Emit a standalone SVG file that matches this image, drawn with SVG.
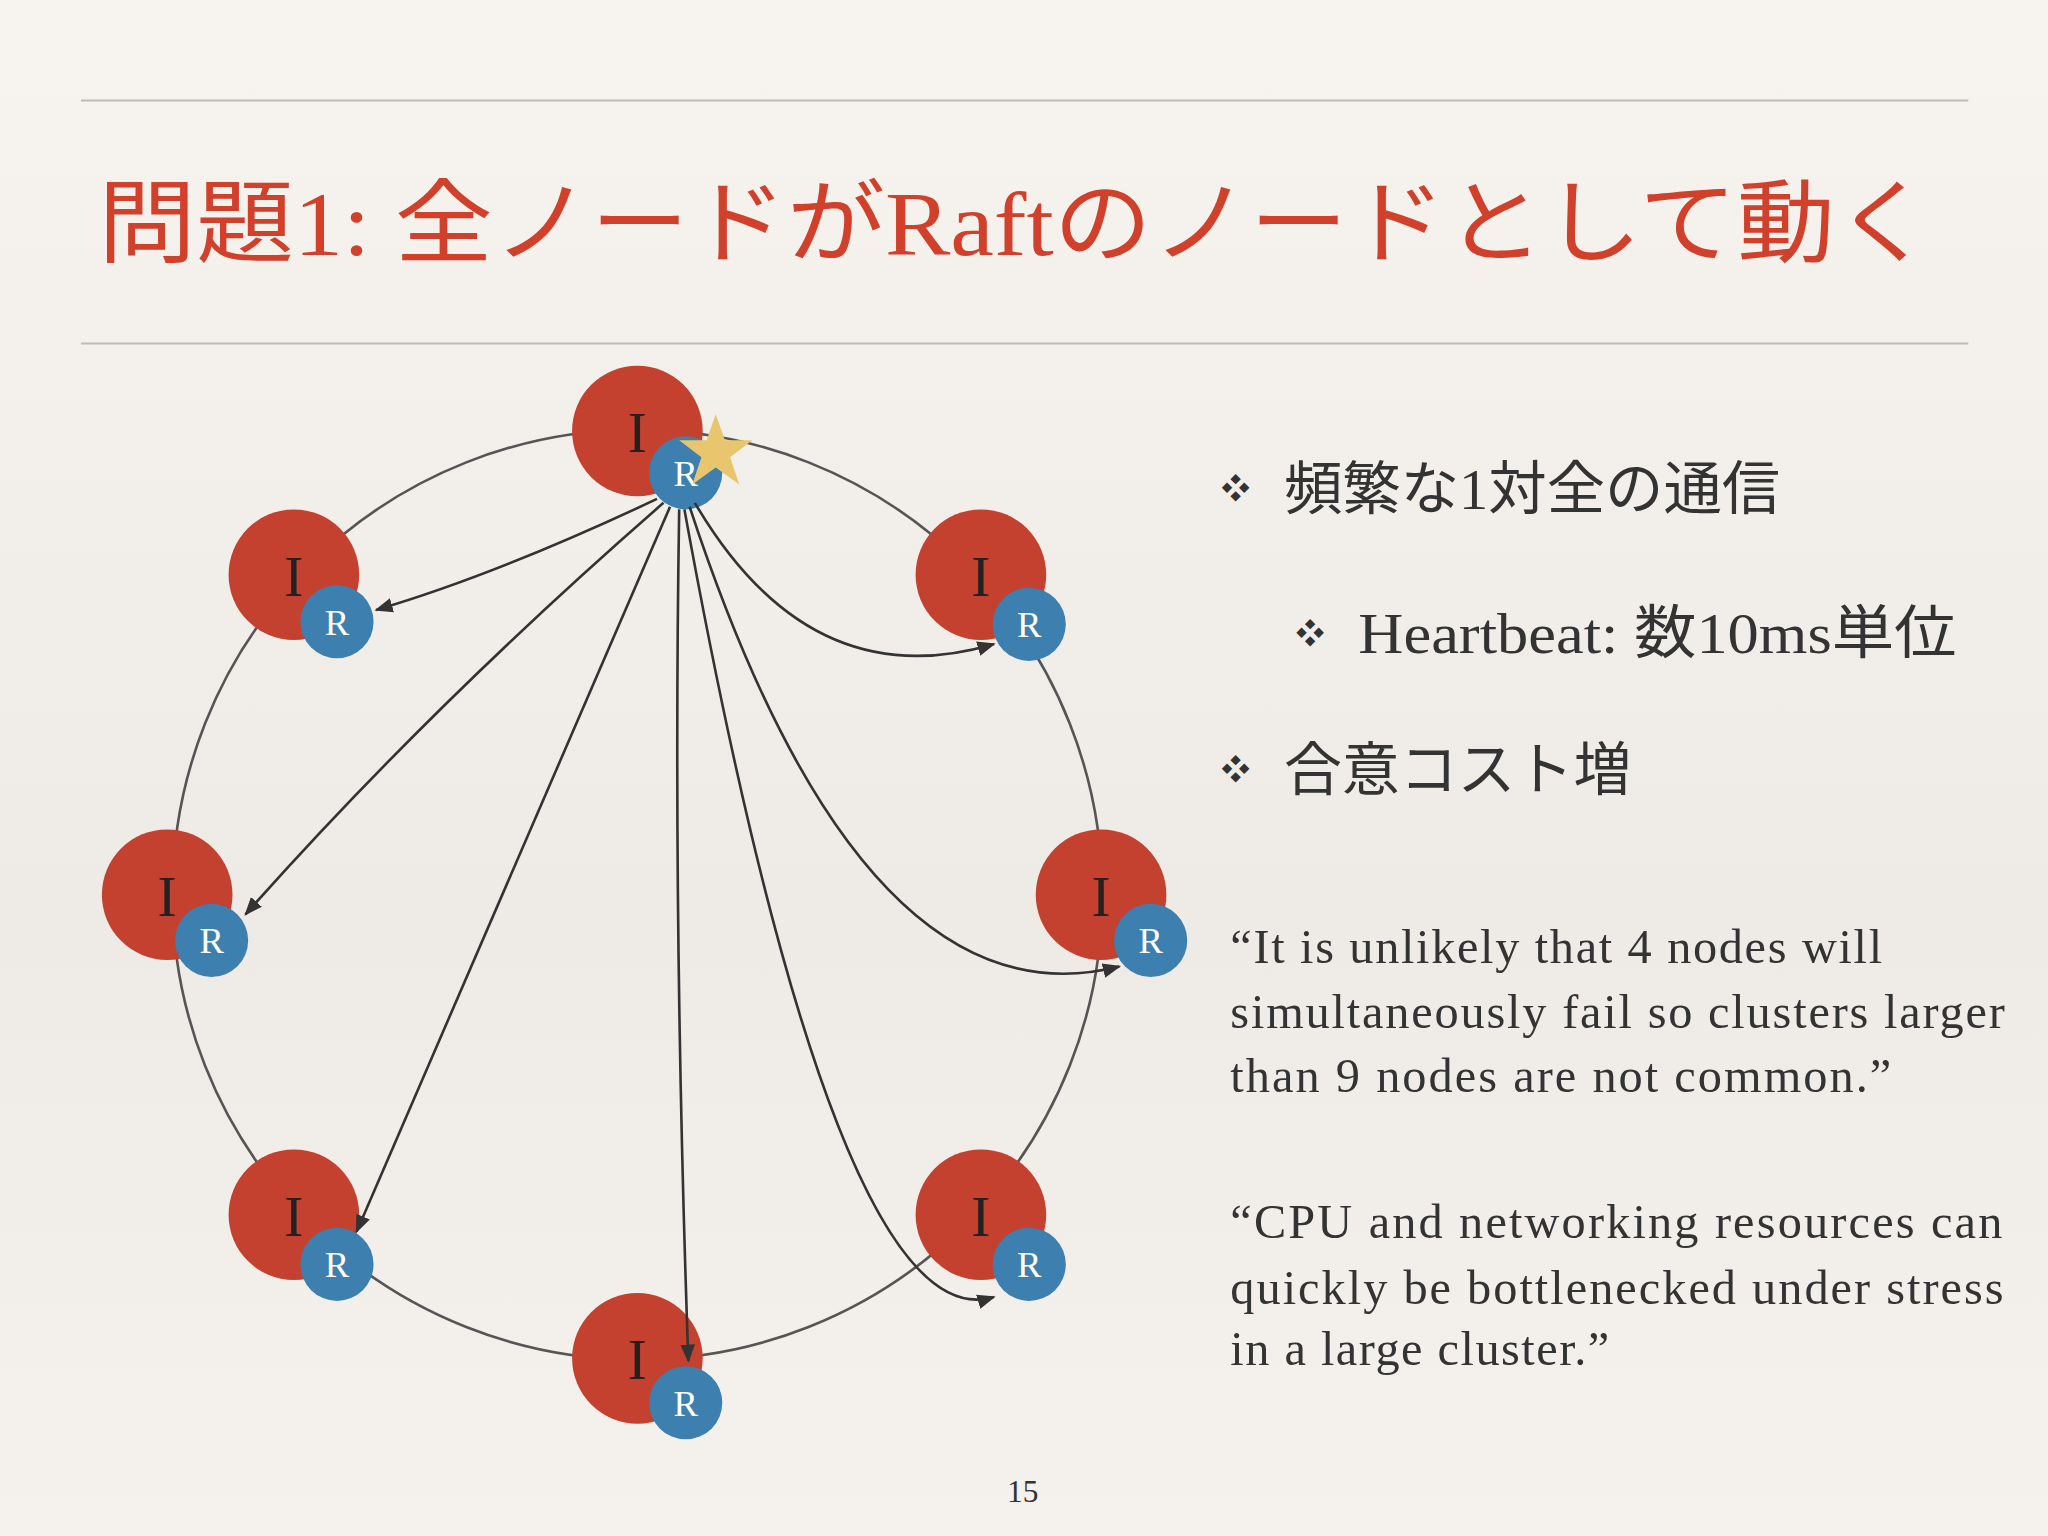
<svg xmlns="http://www.w3.org/2000/svg" width="2048" height="1536" viewBox="0 0 2048 1536">
<defs>
<linearGradient id="bg" x1="0" y1="0" x2="0" y2="1"><stop offset="0" stop-color="#f7f4ef"/><stop offset="0.6" stop-color="#eeebe6"/><stop offset="1" stop-color="#f5f2ed"/></linearGradient>
<marker id="ah" viewBox="0 0 10 10" refX="9" refY="5" markerWidth="7" markerHeight="7" orient="auto"><path d="M0,1 L10,5 L0,9 z" fill="#333"/></marker>
</defs>
<style>
.I{fill:#c4402f}.R{fill:#3d7fae}
.li{font-family:"Liberation Serif",serif;font-size:44px;fill:#222}
.lr{font-family:"Liberation Serif",serif;font-size:28px;fill:#fff}
.t{font-family:"Liberation Serif","Noto Sans CJK JP",serif;fill:#333}
.a{fill:none;stroke:#333;stroke-width:2;marker-end:url(#ah)}
</style>
<rect width="2048" height="1536" fill="url(#bg)"/>
<g transform="scale(1.30612)">
<line x1="62" y1="77" x2="1507" y2="77" stroke="#bbb" stroke-width="1.5"/>
<line x1="62" y1="263" x2="1507" y2="263" stroke="#bbb" stroke-width="1.5"/>
<text x="75" y="195" font-family="Liberation Serif,'Noto Sans CJK JP',serif" font-size="70" fill="#d0402b" textLength="1405" lengthAdjust="spacingAndGlyphs">問題1: 全ノードがRaftのノードとして動く</text>
<circle cx="488" cy="685" r="356" fill="none" stroke="#555" stroke-width="2"/>
<g id="n1"><circle class="I" cx="488" cy="330" r="50"/><text class="li" x="488" y="346" text-anchor="middle">I</text><circle class="R" cx="525" cy="362" r="28"/><text class="lr" x="525" y="372" text-anchor="middle">R</text></g>
<g id="n2"><circle class="I" cx="225" cy="440" r="50"/><text class="li" x="225" y="456" text-anchor="middle">I</text><circle class="R" cx="258" cy="476" r="28"/><text class="lr" x="258" y="486" text-anchor="middle">R</text></g>
<g id="n3"><circle class="I" cx="751" cy="440" r="50"/><text class="li" x="751" y="456" text-anchor="middle">I</text><circle class="R" cx="788" cy="478" r="28"/><text class="lr" x="788" y="488" text-anchor="middle">R</text></g>
<g id="n4"><circle class="I" cx="128" cy="685" r="50"/><text class="li" x="128" y="701" text-anchor="middle">I</text><circle class="R" cx="162" cy="720" r="28"/><text class="lr" x="162" y="730" text-anchor="middle">R</text></g>
<g id="n5"><circle class="I" cx="843" cy="685" r="50"/><text class="li" x="843" y="701" text-anchor="middle">I</text><circle class="R" cx="881" cy="720" r="28"/><text class="lr" x="881" y="730" text-anchor="middle">R</text></g>
<g id="n6"><circle class="I" cx="225" cy="930" r="50"/><text class="li" x="225" y="946" text-anchor="middle">I</text><circle class="R" cx="258" cy="968" r="28"/><text class="lr" x="258" y="978" text-anchor="middle">R</text></g>
<g id="n7"><circle class="I" cx="751" cy="930" r="50"/><text class="li" x="751" y="946" text-anchor="middle">I</text><circle class="R" cx="788" cy="968" r="28"/><text class="lr" x="788" y="978" text-anchor="middle">R</text></g>
<g id="n8"><circle class="I" cx="488" cy="1040" r="50"/><text class="li" x="488" y="1056" text-anchor="middle">I</text><circle class="R" cx="525" cy="1074" r="28"/><text class="lr" x="525" y="1084" text-anchor="middle">R</text></g>
<g id="connectors">
<path class="a" d="M503,382 Q380,440 288,467"/>
<path class="a" d="M508,385 Q330,540 188,700"/>
<path class="a" d="M513,388 L273,943"/>
<path class="a" d="M520,390 Q515,700 527,1042"/>
<path class="a" d="M524,390 Q640,1030 761,993"/>
<path class="a" d="M528,388 Q660,790 857,740"/>
<path class="a" d="M532,385 Q620,535 761,493"/>
</g>
<g id="star"><polygon points="548,317 555,337 576,337 559,350 566,371 548,358 530,371 537,350 520,337 541,337" fill="#e8c66e"/></g>
<text class="t" x="935" y="382" font-size="22" fill="#999">❖</text>
<text class="t" x="983" y="390" font-size="44" textLength="380" lengthAdjust="spacingAndGlyphs">頻繁な1対全の通信</text>
<text class="t" x="992" y="493" font-size="22" fill="#999">❖</text>
<text class="t" x="1040" y="500" font-size="44" textLength="458" lengthAdjust="spacingAndGlyphs">Heartbeat: 数10ms単位</text>
<text class="t" x="935" y="597" font-size="22" fill="#999">❖</text>
<text class="t" x="983" y="605" font-size="44" textLength="266" lengthAdjust="spacingAndGlyphs">合意コスト増</text>
<text class="t" x="942" y="737" font-size="37" textLength="499">“It is unlikely that 4 nodes will</text>
<text class="t" x="942" y="787" font-size="37" textLength="593">simultaneously fail so clusters larger</text>
<text class="t" x="942" y="836" font-size="37" textLength="506">than 9 nodes are not common.”</text>
<text class="t" x="942" y="948" font-size="37" textLength="591">“CPU and networking resources can</text>
<text class="t" x="942" y="998" font-size="37" textLength="592">quickly be bottlenecked under stress</text>
<text class="t" x="942" y="1045" font-size="37" textLength="290">in a large cluster.”</text>
<text class="t" x="783" y="1150" font-size="24" text-anchor="middle" fill="#555">15</text>
</g>
</svg>
